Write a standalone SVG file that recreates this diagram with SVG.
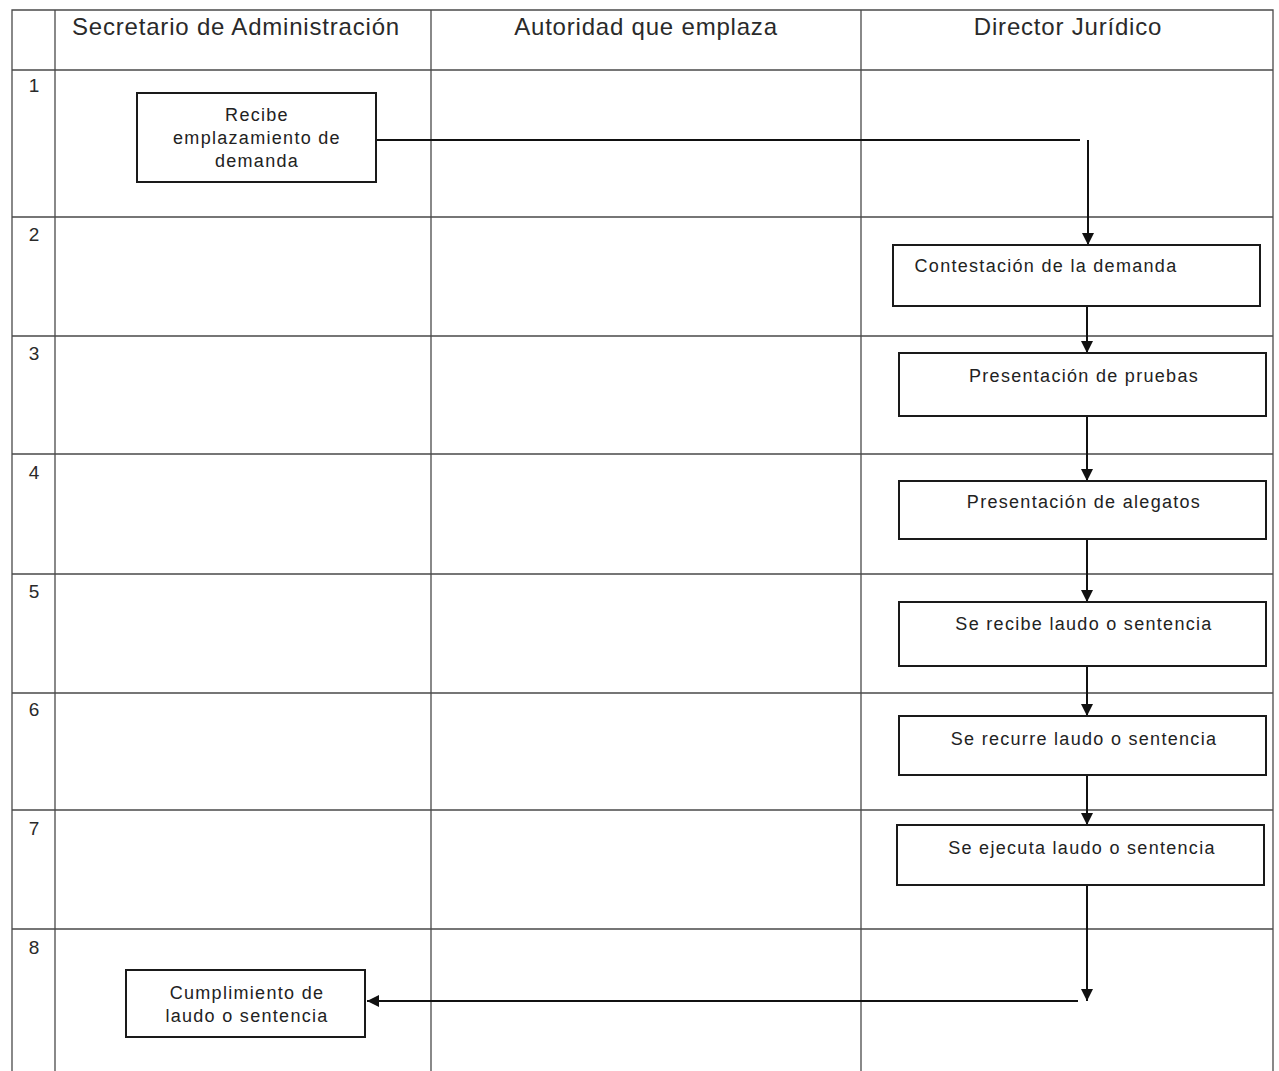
<svg xmlns="http://www.w3.org/2000/svg" width="1279" height="1071" viewBox="0 0 1279 1071">
<style>
.grid{stroke:#4a4a4a;stroke-width:1.3;fill:none}
.box{fill:#fff;stroke:#1a1a1a;stroke-width:2}
.hdr{font-family:"Liberation Sans",Arial,sans-serif;font-size:24px;letter-spacing:0.8px;fill:#2a2a2a;text-anchor:middle}
.num{font-family:"Liberation Sans",Arial,sans-serif;font-size:19px;fill:#2a2a2a;text-anchor:middle}
.lbl{font-family:"Liberation Sans",Arial,sans-serif;font-size:18px;letter-spacing:1.3px;fill:#222;text-anchor:middle}
.con{stroke:#111;stroke-width:2;fill:none}
</style>
<defs>
<marker id="ah" viewBox="0 0 12 12" refX="12" refY="6" markerWidth="12" markerHeight="12" markerUnits="userSpaceOnUse" orient="auto">
<path d="M0,0 L12,6 L0,12 Z" fill="#111"/>
</marker>
</defs>
<rect width="1279" height="1071" fill="#fff"/>
<g id="grid">
<path class="grid" d="M12,1071 V10 H1273 V1071"/>
<path class="grid" d="M55,10 V1071 M431,10 V1071 M861,10 V1071"/>
<path class="grid" d="M12,70 H1273 M12,217 H1273 M12,336 H1273 M12,454 H1273 M12,574 H1273 M12,693 H1273 M12,810 H1273 M12,929 H1273"/>
</g>
<g id="headers">
<text class="hdr" x="236" y="35">Secretario de Administración</text>
<text class="hdr" x="646" y="35">Autoridad que emplaza</text>
<text class="hdr" x="1068" y="35">Director Jurídico</text>
</g>
<g id="rownums">
<text class="num" x="34" y="92">1</text>
<text class="num" x="34" y="241">2</text>
<text class="num" x="34" y="360">3</text>
<text class="num" x="34" y="479">4</text>
<text class="num" x="34" y="598">5</text>
<text class="num" x="34" y="716">6</text>
<text class="num" x="34" y="835">7</text>
<text class="num" x="34" y="954">8</text>
</g>
<g id="connectors">
<path class="con" d="M376,140 H1080"/>
<path class="con" d="M1088,140 V245" marker-end="url(#ah)"/>
<path class="con" d="M1087,306 V353" marker-end="url(#ah)"/>
<path class="con" d="M1087,416 V481" marker-end="url(#ah)"/>
<path class="con" d="M1087,539 V602" marker-end="url(#ah)"/>
<path class="con" d="M1087,666 V716" marker-end="url(#ah)"/>
<path class="con" d="M1087,775 V825" marker-end="url(#ah)"/>
<path class="con" d="M1087,885 V1001" marker-end="url(#ah)"/>
<path class="con" d="M1078,1001 H367" marker-end="url(#ah)"/>
</g>
<g id="n1">
<rect class="box" x="137" y="93" width="239" height="89"/>
<text class="lbl" x="257" y="121">Recibe</text>
<text class="lbl" x="257" y="144">emplazamiento de</text>
<text class="lbl" x="257" y="167">demanda</text>
</g>
<g id="n2">
<rect class="box" x="893" y="245" width="367" height="61"/>
<text class="lbl" x="1046" y="272">Contestación de la demanda</text>
</g>
<g id="n3">
<rect class="box" x="899" y="353" width="367" height="63"/>
<text class="lbl" x="1084" y="382">Presentación de pruebas</text>
</g>
<g id="n4">
<rect class="box" x="899" y="481" width="367" height="58"/>
<text class="lbl" x="1084" y="508">Presentación de alegatos</text>
</g>
<g id="n5">
<rect class="box" x="899" y="602" width="367" height="64"/>
<text class="lbl" x="1084" y="630">Se recibe laudo o sentencia</text>
</g>
<g id="n6">
<rect class="box" x="899" y="716" width="367" height="59"/>
<text class="lbl" x="1084" y="745">Se recurre laudo o sentencia</text>
</g>
<g id="n7">
<rect class="box" x="897" y="825" width="367" height="60"/>
<text class="lbl" x="1082" y="854">Se ejecuta laudo o sentencia</text>
</g>
<g id="n8">
<rect class="box" x="126" y="970" width="239" height="67"/>
<text class="lbl" x="247" y="999">Cumplimiento de</text>
<text class="lbl" x="247" y="1022">laudo o sentencia</text>
</g>
</svg>
